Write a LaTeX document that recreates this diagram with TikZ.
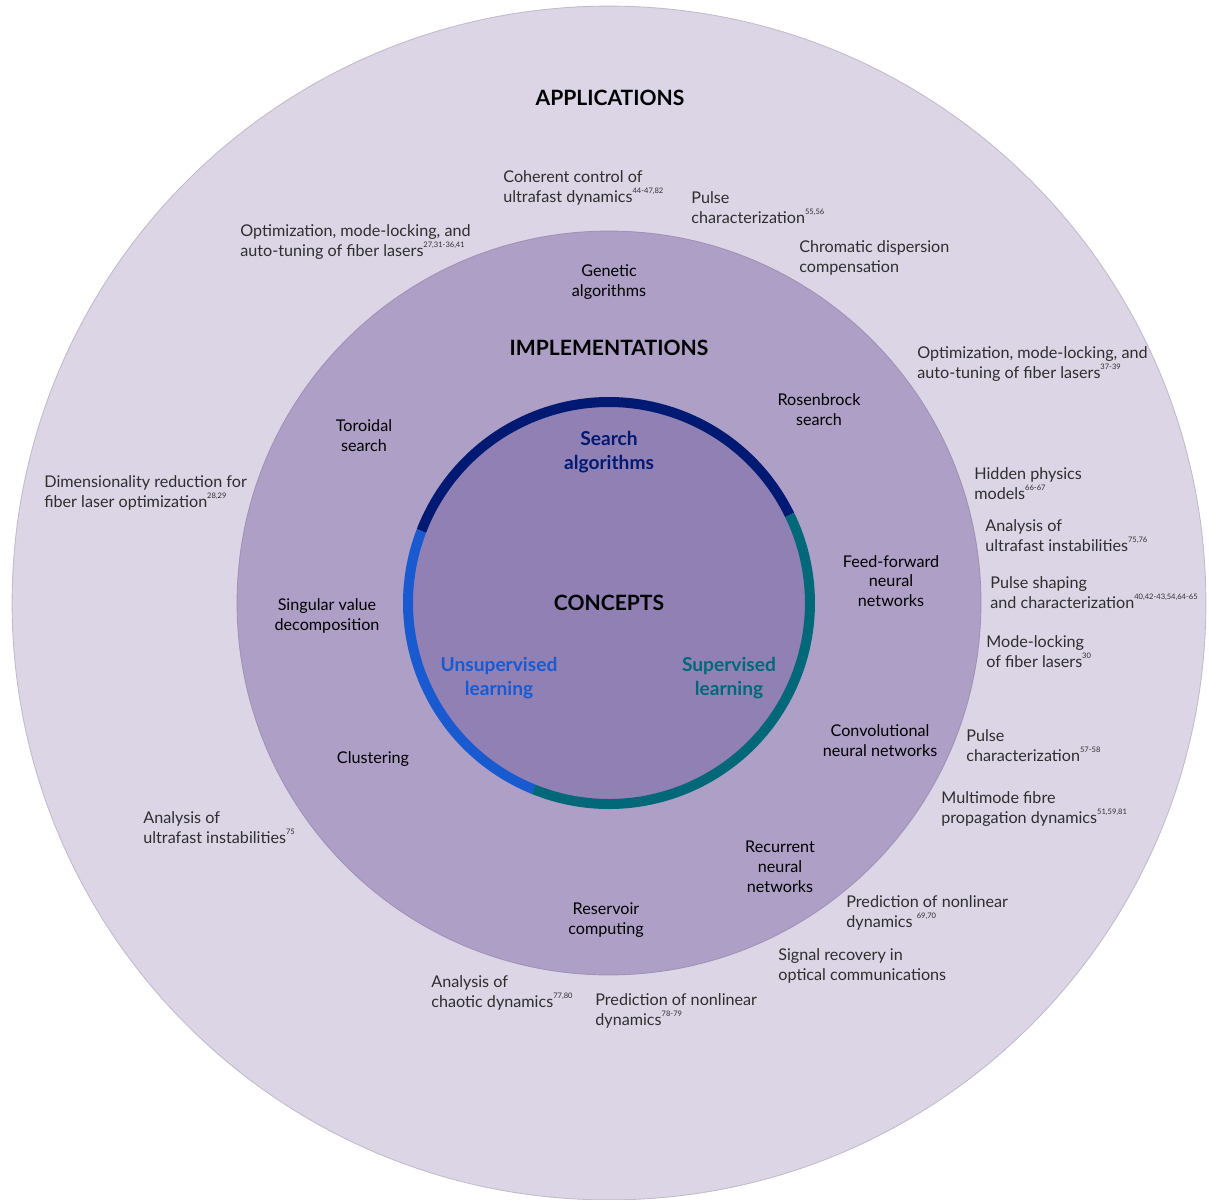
\documentclass[tikz,border=0pt]{standalone}
\usepackage{fontspec}
\setmainfont{Lato}
\usepackage{xcolor}

\definecolor{appfill}{HTML}{DCD5E6}
\definecolor{impfill}{HTML}{AE9FC6}
\definecolor{confill}{HTML}{9180B3}
\definecolor{searchcol}{HTML}{001A73}
\definecolor{unsupcol}{HTML}{1A5AD0}
\definecolor{supcol}{HTML}{006878}
\definecolor{apptext}{HTML}{2E2E2E}

\newcommand{\refnums}[1]{\raisebox{0.55em}{\fontsize{4.3}{4.3}\selectfont #1}}

\begin{document}
\begin{tikzpicture}[x=0.02cm, y=-0.02cm,
    app/.style={anchor=west, align=left, inner sep=0pt, text=apptext, yshift=-0.04cm,
      font=\fontsize{9.2}{11.3}\selectfont},
    impl/.style={align=center, inner sep=0pt, yshift=-0.04cm,
      font=\fontsize{9.2}{11.3}\selectfont},
    heading/.style={inner sep=0pt, font=\bfseries\fontsize{12}{14}\selectfont},
    concept/.style={align=center, inner sep=0pt, yshift=-0.03cm,
      font=\bfseries\fontsize{10.9}{13.6}\selectfont},
    ring/.style={line width=0.2cm}]
          \useasboundingbox (0,0) rectangle (1209,1199);
          \coordinate (c) at (609,603);

          % the three discs
          \filldraw[fill=appfill, draw=appfill!88!black, line width=0.5pt] (c) circle[radius=11.94cm];
          \filldraw[fill=impfill, draw=impfill!92!black, line width=0.5pt] (c) circle[radius=7.44cm];
          \fill[confill] (c) circle[radius=4.02cm];

          % coloured ring round the concepts
          \draw[ring, searchcol] (c) ++(26:4.02cm) arc[start angle=26, end angle=159, radius=4.02cm];
          \draw[ring, unsupcol] (c) ++(159:4.02cm) arc[start angle=159, end angle=248, radius=4.02cm];
          \draw[ring, supcol] (c) ++(248:4.02cm) arc[start angle=248, end angle=386, radius=4.02cm];

          \node[heading] (apps) at (610,98) {APPLICATIONS};
          \node[heading] (impls) at (609,348) {IMPLEMENTATIONS};
          \node[heading] (concepts) at (609,603) {CONCEPTS};

          \node[concept, text=searchcol] (search) at (609,451) {Search\\algorithms};
          \node[concept, text=unsupcol] (unsup) at (499,677) {Unsupervised\\learning};
          \node[concept, text=supcol] (sup) at (729,677) {Supervised\\learning};

          % implementations
          \node[impl] (genetic) at (609,280) {Genetic\\algorithms};
          \node[impl] (rosenbrock) at (819,408) {Rosenbrock\\search};
          \node[impl] (toroidal) at (364,434) {Toroidal\\search};
          \node[impl] (feedfwd) at (891,579) {Feed-forward\\neural\\networks};
          \node[impl] (svd) at (327,614) {Singular value\\decomposition};
          \node[impl] (clustering) at (373,757) {Clustering};
          \node[impl] (cnn) at (880,739) {Convolutional\\neural networks};
          \node[impl] (rnn) at (780,865) {Recurrent\\neural\\networks};
          \node[impl] (reservoir) at (606,918) {Reservoir\\computing};

          % applications
          \node[app] (coherent) at (503,186) {Coherent control of\\ultrafast dynamics\refnums{44-47,82}};
          \node[app] (pulsecharA) at (691,206) {Pulse\\characterization\refnums{55,56}};
          \node[app] (optlaserA) at (240,240) {Optimization, mode-locking, and\\auto-tuning of fiber lasers\refnums{27,31-36,41}};
          \node[app] (chromatic) at (799,256) {Chromatic dispersion\\compensation};
          \node[app] (optlaserB) at (917,362) {Optimization, mode-locking, and\\auto-tuning of fiber lasers\refnums{37-39}};
          \node[app] (dimred) at (44,491) {Dimensionality reduction for\\fiber laser optimization\refnums{28,29}};
          \node[app] (hidden) at (974,482) {Hidden physics\\models\refnums{66-67}};
          \node[app] (instabA) at (985,534) {Analysis of\\ultrafast instabilities\refnums{75,76}};
          \node[app] (shaping) at (990,591) {Pulse shaping\\and characterization\refnums{40,42-43,54,64-65}};
          \node[app] (modelock) at (986,650) {Mode-locking\\of fiber lasers\refnums{30}};
          \node[app] (pulsecharB) at (966,744) {Pulse\\characterization\refnums{57-58}};
          \node[app] (multimode) at (941,807) {Multimode fibre\\propagation dynamics\refnums{51,59,81}};
          \node[app] (instabB) at (143,826) {Analysis of\\ultrafast instabilities\refnums{75}};
          \node[app] (predictA) at (846,911) {Prediction of nonlinear\\dynamics \refnums{69,70}};
          \node[app] (signal) at (778,964) {Signal recovery in\\optical communications};
          \node[app] (chaotic) at (431,991) {Analysis of\\chaotic dynamics\refnums{77,80}};
          \node[app] (predictB) at (595,1009) {Prediction of nonlinear\\dynamics\refnums{78-79}};

          \end{tikzpicture}
\end{document}
